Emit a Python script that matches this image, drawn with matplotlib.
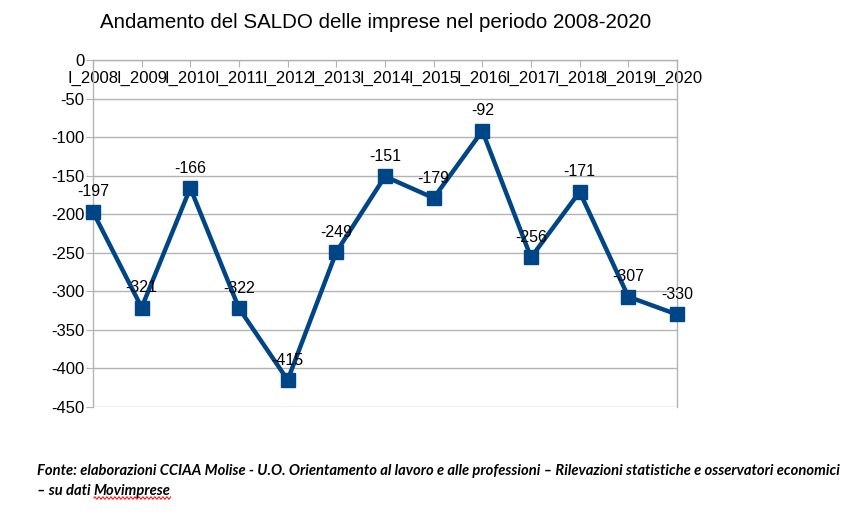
import numpy as np
import matplotlib
matplotlib.use('agg')
from matplotlib import pyplot as plt
from matplotlib.lines import Line2D

years = ['I_2008', 'I_2009', 'I_2010', 'I_2011', 'I_2012', 'I_2013', 'I_2014',
         'I_2015', 'I_2016', 'I_2017', 'I_2018', 'I_2019', 'I_2020']
saldo = [-197, -321, -166, -322, -415, -249, -151, -179, -92, -256, -171, -307, -330]

plt.rcParams['font.family'] = ['Liberation Sans', 'DejaVu Sans']
plt.rcParams['axes.unicode_minus'] = False

W, H = 867, 514
fig = plt.figure(figsize=(W / 100, H / 100), dpi=100)
ax = fig.add_axes([93 / W, 1 - 407 / H, (677 - 93) / W, (407 - 60) / H])

grid_c = '#b3b3b3'
blue = '#004586'
x = np.arange(len(years))
ax.plot(x, saldo, color=blue, lw=3.2, marker='s', ms=10, zorder=3, clip_on=False)
for xi, v in zip(x, saldo):
    ax.annotate(str(v), (xi, v), xytext=(0, 9), textcoords='offset points',
                ha='center', va='bottom', fontsize=11.5, color='black')

ax.set_xlim(0, len(years) - 1)
ax.set_ylim(-450, 0)
ax.set_yticks(np.arange(-450, 1, 50))
ax.set_xticks(x)
ax.set_xticklabels(years)
ax.yaxis.grid(True, color=grid_c, lw=1)
ax.set_axisbelow(True)

ax.spines['bottom'].set_position(('data', 0))
ax.spines['top'].set_visible(False)
for s in ['bottom', 'left', 'right']:
    ax.spines[s].set_color(grid_c)
    ax.spines[s].set_linewidth(1)
ax.tick_params(axis='x', direction='out', length=5, color=grid_c, labelsize=12, pad=3)
ax.tick_params(axis='y', direction='out', length=5, color=grid_c, labelsize=12, pad=1)

fig.text(376 / W, 1 - 22 / H, 'Andamento del SALDO delle imprese nel periodo 2008-2020',
         ha='center', va='center', fontsize=14.8)

foot_kw = dict(fontsize=10.65, fontweight='bold', fontstyle='italic', family=['Lato', 'DejaVu Sans'])
fig.text(37 / W, 1 - 475 / H,
         'Fonte: elaborazioni CCIAA Molise - U.O. Orientamento al lavoro e alle professioni '
         '\u2013 Rilevazioni statistiche e osservatori economici',
         ha='left', va='baseline', **foot_kw)
t1 = fig.text(37 / W, 1 - 495 / H, '\u2013 su dati ', ha='left', va='baseline', **foot_kw)
fig.canvas.draw()
r = fig.canvas.get_renderer()
bb = t1.get_window_extent(r)
t2 = fig.text(bb.x1 / W, 1 - 495 / H, 'Movimprese', ha='left', va='baseline', **foot_kw)
bb2 = t2.get_window_extent(r)

# red spell-check squiggle under the last word
sx = np.linspace(bb2.x0, bb2.x1, 200)
sy = (H - 498) + 1.2 * np.sin((sx - bb2.x0) * 2 * np.pi / 4)
fig.add_artist(Line2D(sx / W, sy / H, color='red', lw=0.7, transform=fig.transFigure))

fig.savefig('out.png', dpi=100)
